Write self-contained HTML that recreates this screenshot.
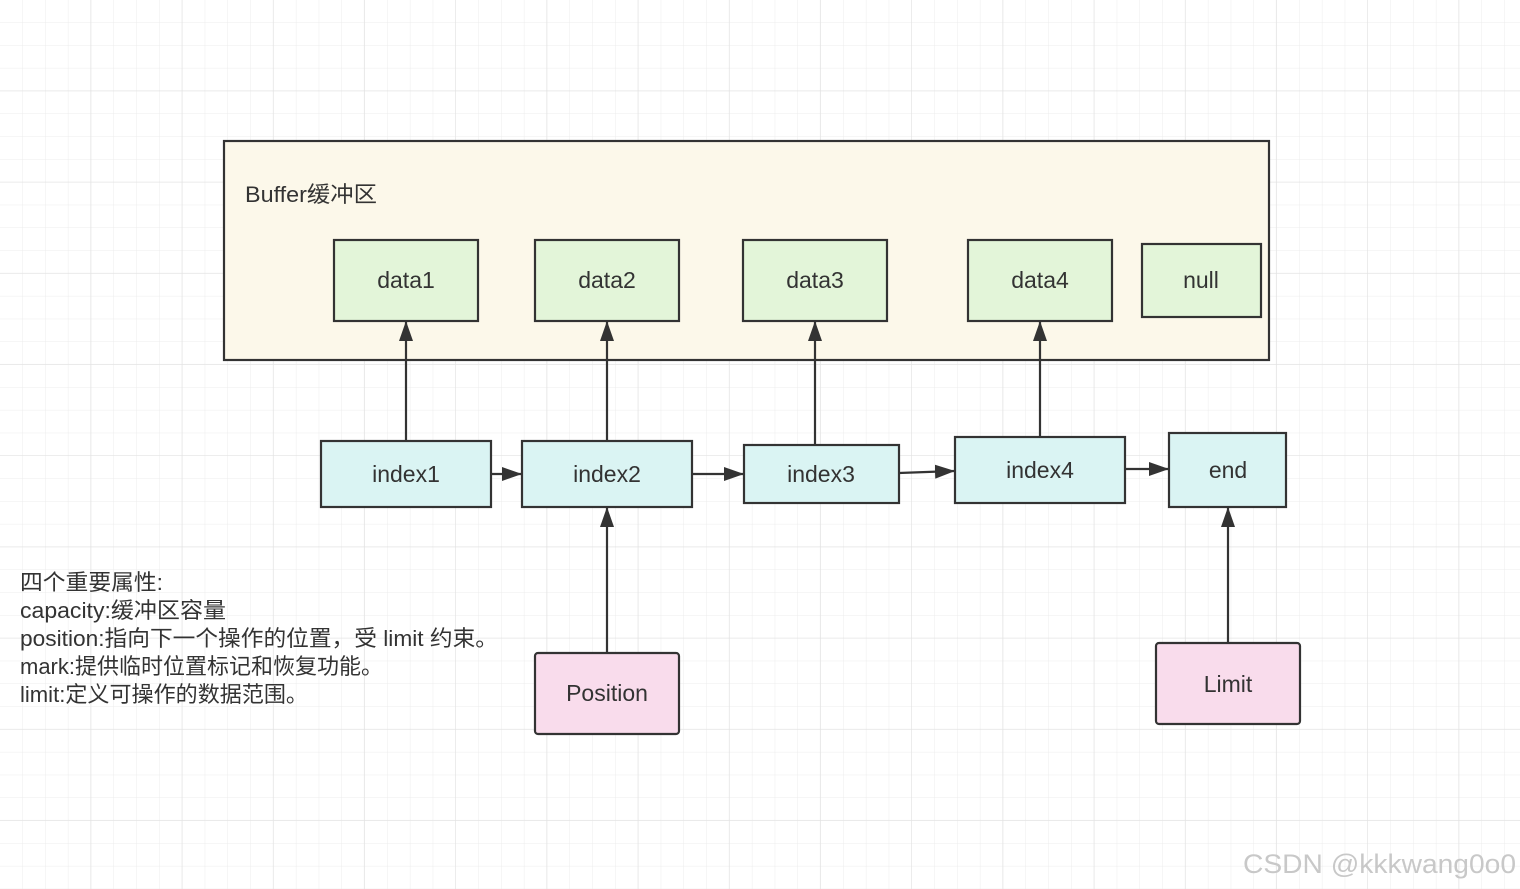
<!DOCTYPE html>
<html><head><meta charset="utf-8"><style>
html,body{margin:0;padding:0;background:#fff;}
svg{display:block;}
text{font-family:"Liberation Sans","Noto Sans CJK SC",sans-serif;fill:#333;}
</style></head><body>
<svg width="1520" height="889" viewBox="0 0 1520 889" xmlns="http://www.w3.org/2000/svg">
<defs>
<pattern id="g" width="22.8" height="22.8" patternUnits="userSpaceOnUse" x="0" y="0">
<path d="M22.8 0V22.8M0 22.8H22.8" stroke="#ececec" stroke-width="1" fill="none"/>
</pattern>
<pattern id="G" width="91.2" height="91.2" patternUnits="userSpaceOnUse">
<path d="M91.2 0V91.2M0 91.2H91.2" stroke="#e2e2e2" stroke-width="1.3" fill="none"/>
</pattern>
<marker id="b" markerWidth="20" markerHeight="14" refX="19" refY="7" orient="auto" markerUnits="userSpaceOnUse">
<path d="M0,0 L20,7 L0,14 Z" fill="#333"/>
</marker>
</defs>
<rect width="1520" height="889" fill="url(#g)"/>
<rect width="1520" height="889" fill="url(#G)"/>
<g stroke="#333" stroke-width="2.2">
<rect x="224" y="141" width="1045" height="219" fill="#fcf8ea"/>
<g fill="#e3f5d9">
<rect x="334" y="240" width="144" height="81"/>
<rect x="535" y="240" width="144" height="81"/>
<rect x="743" y="240" width="144" height="81"/>
<rect x="968" y="240" width="144" height="81"/>
<rect x="1142" y="244" width="119" height="73"/>
</g>
<g fill="#daf4f3">
<rect x="321" y="441" width="170" height="66"/>
<rect x="522" y="441" width="170" height="66"/>
<rect x="744" y="445" width="155" height="58"/>
<rect x="955" y="437" width="170" height="66"/>
<rect x="1169" y="433" width="117" height="74"/>
</g>
<g fill="#f9dcec">
<rect x="535" y="653" width="144" height="81" rx="3"/>
<rect x="1156" y="643" width="144" height="81" rx="3"/>
</g>
<g fill="none" marker-end="url(#b)">
<line x1="406" y1="441" x2="406" y2="322"/>
<line x1="607" y1="441" x2="607" y2="322"/>
<line x1="815" y1="445" x2="815" y2="322"/>
<line x1="1040" y1="437" x2="1040" y2="322"/>
<line x1="491" y1="474" x2="521" y2="474"/>
<line x1="692" y1="474" x2="743" y2="474"/>
<line x1="899" y1="473" x2="954" y2="471"/>
<line x1="1125" y1="469" x2="1168" y2="469"/>
<line x1="607" y1="653" x2="607" y2="508"/>
<line x1="1228" y1="643" x2="1228" y2="508"/>
</g>
</g>
<text x="245" y="202" font-size="22" textLength="132" lengthAdjust="spacingAndGlyphs">Buffer缓冲区</text>
<g font-size="23" text-anchor="middle">
<text x="406" y="288">data1</text>
<text x="607" y="288">data2</text>
<text x="815" y="288">data3</text>
<text x="1040" y="288">data4</text>
<text x="1201" y="288">null</text>
<text x="406" y="482">index1</text>
<text x="607" y="482">index2</text>
<text x="821" y="482">index3</text>
<text x="1040" y="478">index4</text>
<text x="1228" y="478">end</text>
<text x="607" y="701">Position</text>
<text x="1228" y="692">Limit</text>
</g>
<g font-size="22" lengthAdjust="spacingAndGlyphs">
<text x="20" y="590" textLength="143" lengthAdjust="spacingAndGlyphs">四个重要属性:</text>
<text x="20" y="618" textLength="206" lengthAdjust="spacingAndGlyphs">capacity:缓冲区容量</text>
<text x="20" y="646" textLength="478" lengthAdjust="spacingAndGlyphs">position:指向下一个操作的位置，受 limit 约束。</text>
<text x="20" y="674" textLength="363" lengthAdjust="spacingAndGlyphs">mark:提供临时位置标记和恢复功能。</text>
<text x="20" y="702" textLength="288" lengthAdjust="spacingAndGlyphs">limit:定义可操作的数据范围。</text>
</g>
<text x="1243" y="873" font-size="27" textLength="273" lengthAdjust="spacingAndGlyphs" style="fill:#c8c8c8">CSDN @kkkwang0o0</text>
</svg>
</body></html>
